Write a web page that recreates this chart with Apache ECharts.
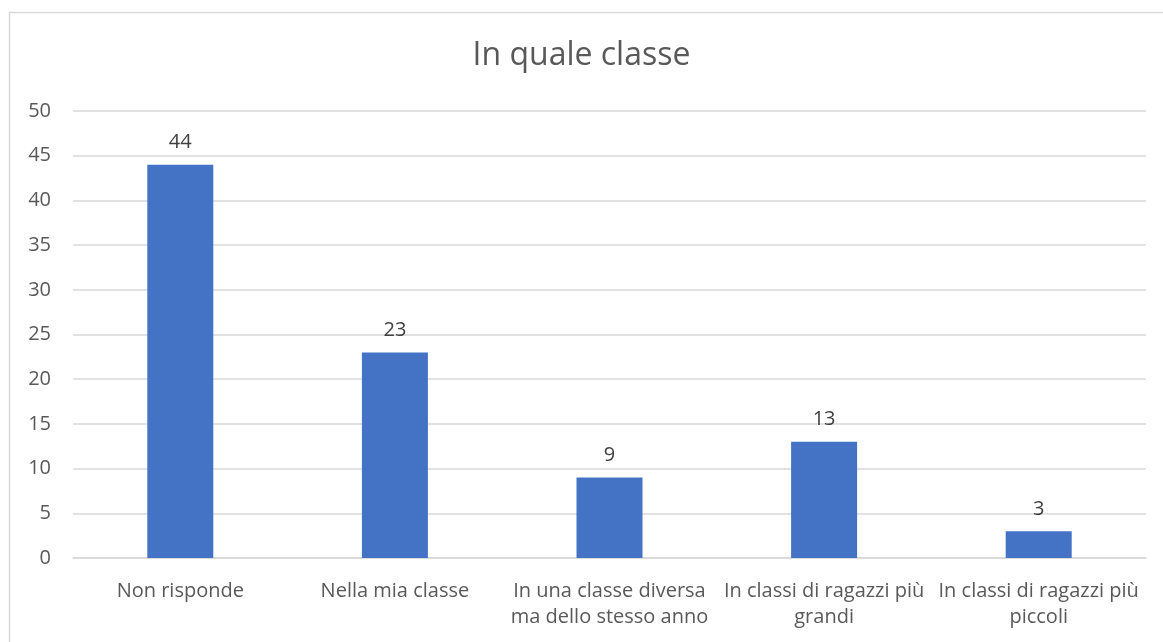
<!DOCTYPE html>
<html>
<head>
<meta charset="utf-8">
<script src="https://cdn.jsdelivr.net/npm/echarts@6/dist/echarts.min.js"></script>
<style>
  html, body { margin: 0; padding: 0; background: #fff; }
  #main { width: 1163px; height: 642px; }
</style>
</head>
<body>
<div id="main"></div>
<script>
    // dati
    var categories = [
        'Non risponde',
        'Nella mia classe',
        'In una classe diversa\nma dello stesso anno',
        'In classi di ragazzi più\ngrandi',
        'In classi di ragazzi più\npiccoli'
    ];
    var values = [44, 23, 9, 13, 3];
    var yTicks = [0, 5, 10, 15, 20, 25, 30, 35, 40, 45, 50];

    var myChart = echarts.init(document.getElementById('main'));
    var option = {
        backgroundColor: '#fff',
        animation: false,
        title: {
            text: 'In quale classe',
            left: 'center',
            top: 35,
            textStyle: {
                color: '#595959',
                fontFamily: 'Open Sans',
                fontWeight: 'normal',
                fontSize: 32
            }
        },
        graphic: [{
            type: 'rect',
            shape: { x: 9.5, y: 12.5, width: 1170, height: 650 },
            style: { fill: 'none', stroke: '#d9d9d9', lineWidth: 1.5 },
            silent: true
        }],
        grid: {
            left: 73,
            right: 17,
            top: 111,
            bottom: 84,
            containLabel: false
        },
        xAxis: {
            type: 'category',
            data: categories,
            axisLine: { lineStyle: { color: '#d9d9d9', width: 1.5 } },
            axisTick: { show: false },
            axisLabel: {
                color: '#595959',
                fontFamily: 'Open Sans',
                fontSize: 20,
                lineHeight: 26,
                margin: 20,
                interval: 0
            }
        },
        yAxis: {
            type: 'value',
            min: yTicks[0],
            max: yTicks[yTicks.length - 1],
            interval: 5,
            axisLine: { show: false },
            axisTick: { show: false },
            splitLine: { lineStyle: { color: '#d9d9d9', width: 1.5 } },
            axisLabel: {
                color: '#595959',
                fontFamily: 'Open Sans',
                fontSize: 20,
                margin: 22
            }
        },
        series: [{
            type: 'bar',
            data: values,
            barWidth: 66,
            itemStyle: { color: '#4472C4' },
            label: {
                show: true,
                position: 'top',
                distance: 12,
                color: '#404040',
                fontFamily: 'Open Sans',
                fontSize: 20
            }
        }]
    };
    myChart.setOption(option);
</script>
</body>
</html>
